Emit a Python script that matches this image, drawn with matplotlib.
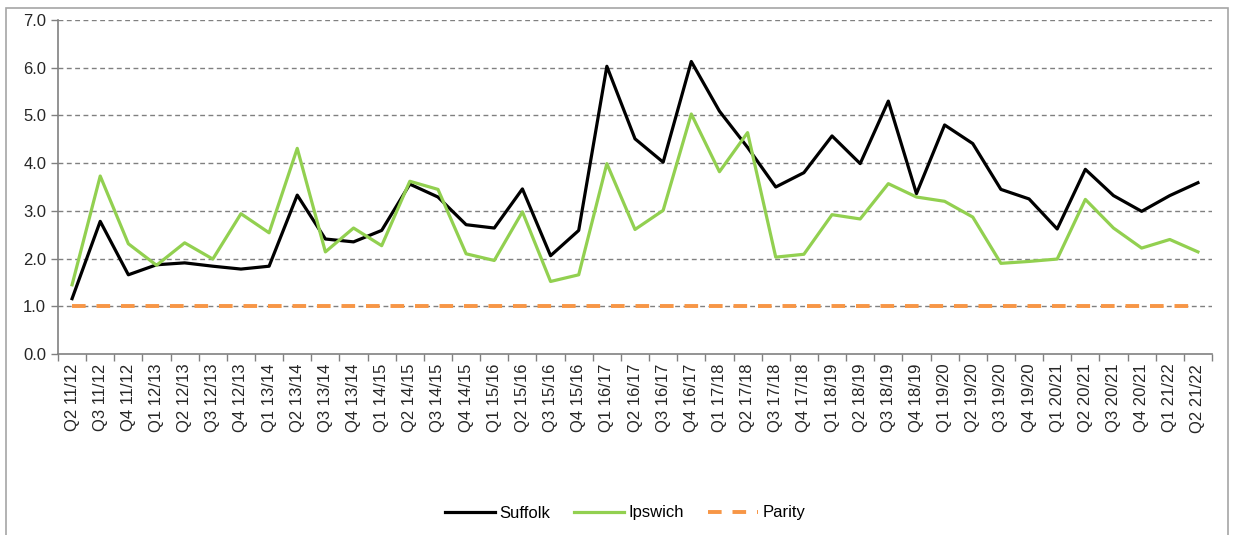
import matplotlib.pyplot as plt
import matplotlib
from matplotlib.patches import Rectangle
import numpy as np

matplotlib.rcParams.update({
    "font.family": ["Liberation Sans", "DejaVu Sans"], "font.size": 12,
})

quarters = [
    "Q2 11/12", "Q3 11/12", "Q4 11/12",
    "Q1 12/13", "Q2 12/13", "Q3 12/13", "Q4 12/13",
    "Q1 13/14", "Q2 13/14", "Q3 13/14", "Q4 13/14",
    "Q1 14/15", "Q2 14/15", "Q3 14/15", "Q4 14/15",
    "Q1 15/16", "Q2 15/16", "Q3 15/16", "Q4 15/16",
    "Q1 16/17", "Q2 16/17", "Q3 16/17", "Q4 16/17",
    "Q1 17/18", "Q2 17/18", "Q3 17/18", "Q4 17/18",
    "Q1 18/19", "Q2 18/19", "Q3 18/19", "Q4 18/19",
    "Q1 19/20", "Q2 19/20", "Q3 19/20", "Q4 19/20",
    "Q1 20/21", "Q2 20/21", "Q3 20/21", "Q4 20/21",
    "Q1 21/22", "Q2 21/22",
]

suffolk = [
    1.16, 2.78, 1.66,
    1.87, 1.91, 1.84, 1.78,
    1.84, 3.33, 2.41, 2.35,
    2.59, 3.56, 3.29, 2.71,
    2.64, 3.46, 2.06, 2.59,
    6.03, 4.51, 4.02, 6.13,
    5.09, 4.33, 3.50, 3.80,
    4.57, 3.99, 5.30, 3.36,
    4.80, 4.41, 3.45, 3.25,
    2.62, 3.87, 3.32, 2.99,
    3.32, 3.59,
]

ipswich = [
    1.45, 3.73, 2.31,
    1.86, 2.33, 1.99, 2.94,
    2.54, 4.31, 2.14, 2.64,
    2.27, 3.62, 3.45, 2.10,
    1.96, 2.98, 1.52, 1.66,
    3.99, 2.61, 3.01, 5.03,
    3.82, 4.64, 2.03, 2.09,
    2.92, 2.83, 3.57, 3.29,
    3.20, 2.87, 1.90, 1.94,
    1.99, 3.24, 2.64, 2.22,
    2.40, 2.14,
]

parity = [1.0] * len(quarters)

fig = plt.figure(figsize=(12.34, 5.35), dpi=100)
ax = fig.add_axes([58 / 1234, 1 - 354 / 535, (1212 - 58) / 1234, (354 - 20) / 535])

# chart frame like the spreadsheet export
fig.patches.append(Rectangle((6 / 1234, -0.1), 1222 / 1234, 1 - 8 / 535 + 0.1,
                             transform=fig.transFigure, fill=False,
                             edgecolor="#a6a6a6", linewidth=1.2))

x = np.arange(len(quarters))
grid_col = "#808080"
for yv in np.arange(1, 8):
    ax.axhline(yv, color=grid_col, linewidth=1.0, linestyle=(0, (3.5, 2.5)), zorder=1)

ax.plot(x, suffolk, color="black", linewidth=2.3, label="Suffolk", zorder=3)
ax.plot(x, ipswich, color="#92D050", linewidth=2.3, label="Ipswich", zorder=3)
ax.plot(x, parity, color="#F79646", linewidth=2.8, linestyle=(0, (3.5, 2.8)),
        label="Parity", zorder=2)

ax.set_xlim(-0.5, len(quarters) - 0.5)
ax.set_ylim(0, 7)
ax.set_yticks(np.arange(0, 8))
ax.set_yticklabels([f"{v:.1f}" for v in np.arange(0, 8)])
ax.set_xticks(x)
ax.set_xticklabels(quarters, rotation=90)
ax.set_xticks(np.arange(-0.5, len(quarters)), minor=True)
ax.tick_params(axis="x", which="major", length=0, pad=7, colors="#262626")
ax.tick_params(axis="x", which="minor", length=5, color=grid_col, width=1)
ax.tick_params(axis="y", length=5, color=grid_col, width=1, colors="#262626")
ax.tick_params(axis="y", color=grid_col)

for side in ["top", "right"]:
    ax.spines[side].set_visible(False)
for side in ["left", "bottom"]:
    ax.spines[side].set_color(grid_col)
    ax.spines[side].set_linewidth(1.2)

fig.legend(loc="center", bbox_to_anchor=(625 / 1234, 1 - 513 / 535), ncol=3,
           frameon=False, handlelength=3.0, handletextpad=0.3,
           columnspacing=1.4, fontsize=12)

fig.savefig("out.png", dpi=100)
